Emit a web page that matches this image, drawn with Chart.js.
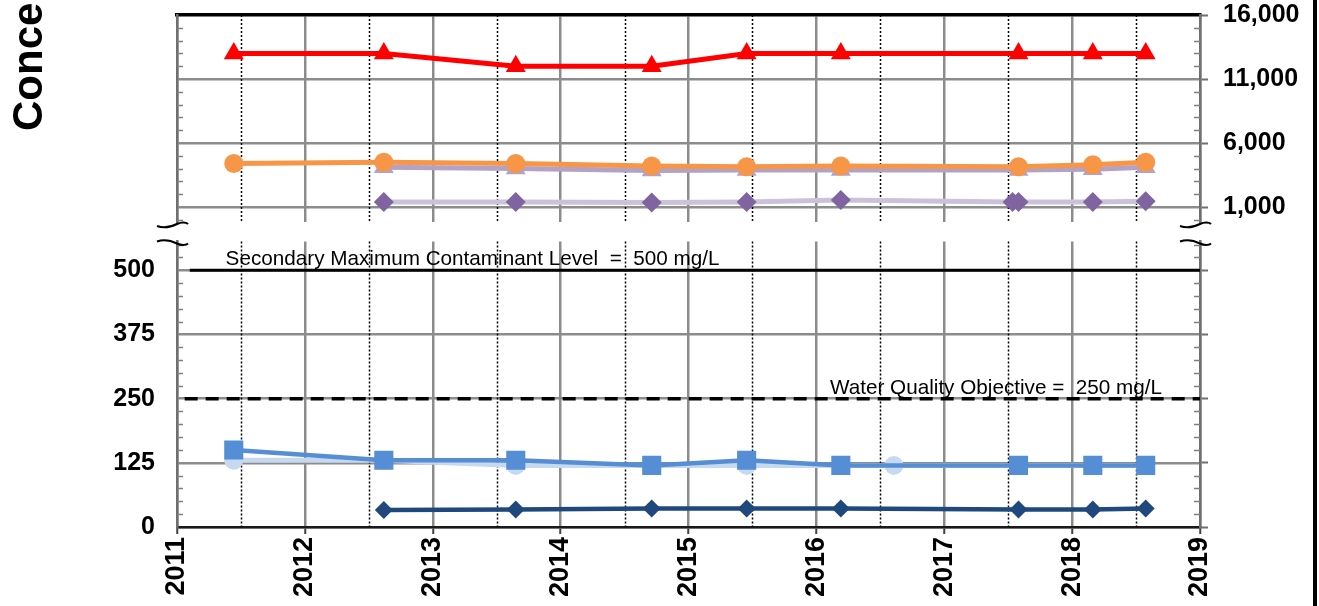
<!DOCTYPE html>
<html>
<head>
<meta charset="utf-8">
<script src="https://cdn.jsdelivr.net/npm/chart.js@4.4.1/dist/chart.umd.min.js"></script>
<style>
  html, body { margin: 0; padding: 0; background: #fff; overflow: hidden; }
  #wrap { position: relative; width: 1319px; height: 606px; }
  canvas { position: absolute; left: 0; }
  #upper { top: 0; }
  #lower { top: 228px; }
  #edge { position: absolute; left: 1313px; top: 0; width: 4px; height: 606px; background: #000; }
</style>
</head>
<body>
<div id="wrap">
  <canvas id="upper" width="1319" height="235"></canvas>
  <canvas id="lower" width="1319" height="378"></canvas>
  <div id="edge"></div>
</div>
<script>
Chart.defaults.font.family = "'Liberation Sans', Arial, sans-serif";
Chart.defaults.color = '#000';

// sampling dates
const sampleDates = ['2011-06-12', '2012-08-14', '2013-08-26', '2014-09-18', '2015-06-16', '2016-03-11', '2017-08-01', '2018-03-01', '2018-07-30'];
const laterDates = ['2012-08-14', '2013-08-26', '2014-09-18', '2015-06-16', '2016-03-11', '2017-08-01', '2018-03-01', '2018-07-30'];
const diamondDates = ['2012-08-14', '2013-08-26', '2014-09-18', '2015-06-16', '2016-03-11', '2017-07-15', '2017-08-01', '2018-03-01', '2018-07-30'];
const circleDates = ['2011-06-12', '2012-08-14', '2013-08-26', '2014-09-18', '2015-06-16', '2016-03-11', '2016-08-10', '2017-08-01', '2018-03-01', '2018-07-30'];

// upper panel values (mg/L)
const redValues = [13000, 13000, 12000, 12000, 13000, 13000, 13000, 13000, 13000];
const orangeValues = [4400, 4500, 4400, 4200, 4150, 4200, 4150, 4300, 4500];
const lavenderValues = [4100, 4000, 3850, 3900, 3900, 3900, 3950, 4100];
const purpleValues = [1400, 1400, 1350, 1400, 1550, 1400, 1400, 1400, 1450];

// lower panel values (mg/L)
const squareValues = [150, 130, 130, 120, 130, 120, 120, 120, 120];
const lightBlueValues = [130, 130, 120, 120, 120, 120, 120, 120, 120, 120];
const darkBlueValues = [33, 34, 36, 36, 36, 34, 34, 36];

const smclValue = 500;
const wqoValue = 250;

const yearTicks = [2011, 2012, 2013, 2014, 2015, 2016, 2017, 2018, 2019];
const seasonLines = [2011.5, 2012.5, 2013.5, 2014.5, 2015.5, 2016.5, 2017.5, 2018.5];
const upperTicks = [1000, 6000, 11000, 16000];
const lowerTicks = [0, 125, 250, 375, 500];

function toYear(s) {
  const d = new Date(s + 'T00:00:00Z');
  const y = d.getUTCFullYear();
  const start = Date.UTC(y, 0, 1);
  return y + (d - start) / (Date.UTC(y + 1, 0, 1) - start);
}

function series(label, dates, values, color, width, style, radius, markColor) {
  return {
    label,
    data: dates.map((d, i) => ({ x: toYear(d), y: values[i] })),
    borderColor: color,
    backgroundColor: markColor || color,
    borderWidth: width,
    pointStyle: style,
    pointRadius: radius,
    pointHoverRadius: radius,
    pointBorderWidth: 0,
    tension: 0,
  };
}

const useTicks = (list) => (s) => { s.ticks = list.map((v) => ({ value: v })); };
const fixSize = (size) => (s) => {
  if (s.isHorizontal()) s.height = size; else s.width = size;
  s.paddingTop = s.paddingBottom = s.paddingLeft = s.paddingRight = 0;
};

function squiggle(ctx, x, y, flip) {
  const d = flip ? -1 : 1;
  ctx.beginPath();
  ctx.moveTo(x - 20, y + d);
  ctx.bezierCurveTo(x - 12, y + 4 * d, x - 6, y + 2 * d, x, y - d);
  ctx.bezierCurveTo(x + 4, y - 3 * d, x + 9, y - 3 * d, x + 11, y - d);
  ctx.stroke();
}

const decor = {
  id: 'decor',
  beforeDatasetsDraw(chart, args, opts) {
    const { ctx, chartArea: a, scales } = chart;
    ctx.save();
    // dotted mid-year lines
    ctx.strokeStyle = '#000';
    ctx.lineWidth = 1.5;
    ctx.setLineDash([2, 2]);
    seasonLines.forEach((v) => {
      const x = Math.round(scales.x.getPixelForValue(v)) + 0.5;
      ctx.beginPath();
      ctx.moveTo(x, a.top);
      ctx.lineTo(x, a.bottom);
      ctx.stroke();
    });
    ctx.setLineDash([]);
    // minor ticks on both value axes
    ctx.strokeStyle = '#808080';
    const y = scales.y;
    for (let v = Math.ceil(y.min / opts.minorStep) * opts.minorStep; v <= y.max; v += opts.minorStep) {
      if (opts.majors.includes(v)) continue;
      const py = Math.round(y.getPixelForValue(v)) + 0.5;
      ctx.beginPath();
      ctx.moveTo(a.left, py);
      ctx.lineTo(a.left + 6, py);
      ctx.moveTo(a.right - 6, py);
      ctx.lineTo(a.right, py);
      ctx.stroke();
    }
    ctx.restore();
  },
  afterDraw(chart, args, opts) {
    const { ctx, chartArea: a, scales } = chart;
    ctx.save();
    // axis break marks
    ctx.strokeStyle = '#000';
    ctx.lineWidth = 2;
    const by = opts.breakAtBottom ? a.bottom + 3 : a.top + 1;
    squiggle(ctx, a.left, by, !opts.breakAtBottom);
    squiggle(ctx, a.right, by, !opts.breakAtBottom);

    ctx.fillStyle = '#000';
    ctx.font = "20.7px 'Liberation Sans', Arial, sans-serif";
    ctx.textAlign = 'left';
    ctx.textBaseline = 'alphabetic';
    (opts.notes || []).forEach((n) => {
      ctx.fillText(n.text, scales.x.getPixelForValue(n.x), scales.y.getPixelForValue(n.y) - 5);
    });

    if (opts.yTitle) {
      ctx.translate(42, 131);
      ctx.rotate(-Math.PI / 2);
      ctx.font = "bold 42px 'Liberation Sans', Arial, sans-serif";
      ctx.fillText(opts.yTitle, 0, 0);
    }
    ctx.restore();
  },
};

const gridGray = '#8c8c8c';
const axisGray = '#6f6f6f';
const tickFont = { size: 25, weight: 'bold' };

new Chart(document.getElementById('upper'), {
  type: 'line',
  data: {
    datasets: [
      series('Red', sampleDates, redValues, '#ff0000', 5, 'triangle', 11.5),
      series('Orange', sampleDates, orangeValues, '#f79646', 5, 'circle', 9.5),
      series('Lavender', laterDates, lavenderValues, '#b3a2c7', 5, 'triangle', 11.5),
      series('Purple', diamondDates, purpleValues, '#ccc1da', 5, 'rectRot', 10, '#8064a2'),
    ],
  },
  options: {
    responsive: false,
    devicePixelRatio: 1,
    animation: false,
    events: [],
    layout: { padding: { top: 15, bottom: 13, left: 0, right: 0 } },
    plugins: {
      legend: { display: false },
      tooltip: { enabled: false },
      decor: { minorStep: 1000, majors: upperTicks, breakAtBottom: true, yTitle: 'Concentration (mg/L)' },
    },
    scales: {
      x: {
        type: 'linear', position: 'top', min: 2011, max: 2019,
        afterBuildTicks: useTicks(yearTicks),
        ticks: { display: false },
        grid: { color: gridGray, lineWidth: 2.5, drawTicks: false },
        border: { color: '#000', width: 3.5 },
        afterFit: fixSize(0),
      },
      y: {
        position: 'left', min: -170, max: 16000,
        afterBuildTicks: useTicks(upperTicks),
        ticks: { display: false },
        grid: { color: (c) => (c.tick && c.tick.value === 16000 ? 'rgba(0,0,0,0)' : gridGray), lineWidth: 2.5, drawTicks: false },
        border: { color: axisGray, width: 2.5 },
        afterFit: fixSize(177),
      },
      yR: {
        position: 'right', min: -170, max: 16000,
        afterBuildTicks: useTicks(upperTicks),
        ticks: { font: tickFont, padding: 15, color: '#000' },
        grid: { drawOnChartArea: false, tickLength: 8, tickColor: axisGray, tickWidth: 2 },
        border: { color: axisGray, width: 2.5 },
        afterFit: fixSize(119),
      },
    },
  },
  plugins: [decor],
});

new Chart(document.getElementById('lower'), {
  type: 'line',
  data: {
    datasets: [
      series('Blue squares', sampleDates, squareValues, '#558ed5', 4.5, 'rect', 13.5),
      series('Light blue', circleDates, lightBlueValues, '#c6d9f0', 5, 'circle', 9.5),
      series('Dark blue', laterDates, darkBlueValues, '#1f497d', 4.5, 'rectRot', 9),
      { label: 'SMCL', data: [{ x: 2011.1, y: smclValue }, { x: 2019, y: smclValue }], borderColor: '#000', borderWidth: 3, pointRadius: 0 },
      { label: 'WQO', data: [{ x: 2011.06, y: wqoValue }, { x: 2019, y: wqoValue }], borderColor: '#000', borderWidth: 3.5, borderDash: [13, 8], pointRadius: 0 },
    ],
  },
  options: {
    responsive: false,
    devicePixelRatio: 1,
    animation: false,
    events: [],
    layout: { padding: { top: 0, bottom: 0, left: 0, right: 0 } },
    plugins: {
      legend: { display: false },
      tooltip: { enabled: false },
      decor: {
        minorStep: 25, majors: lowerTicks, breakAtBottom: false,
        notes: [
          { text: 'Secondary Maximum Contaminant Level  =  500 mg/L', x: 2011.38, y: smclValue },
          { text: 'Water Quality Objective =  250 mg/L', x: 2016.106, y: wqoValue },
        ],
      },
    },
    scales: {
      x: {
        type: 'linear', position: 'bottom', min: 2011, max: 2019,
        afterBuildTicks: useTicks(yearTicks),
        ticks: { minRotation: 90, maxRotation: 90, autoSkip: false, padding: 3, font: { size: 27, weight: 'bold' }, color: '#000', callback: (v) => String(v) },
        grid: { color: gridGray, lineWidth: 2.5, tickLength: 7, tickColor: '#404040', tickWidth: 2 },
        border: { color: '#1a1a1a', width: 2.5 },
        afterFit: fixSize(79),
      },
      y: {
        position: 'left', min: 0, max: 556,
        afterBuildTicks: useTicks(lowerTicks),
        ticks: { font: tickFont, padding: 22, color: '#000' },
        grid: { color: gridGray, lineWidth: 2.5, drawTicks: false },
        border: { color: axisGray, width: 2.5 },
        afterFit: fixSize(177),
      },
      yR: {
        position: 'right', min: 0, max: 556,
        afterBuildTicks: useTicks(lowerTicks),
        ticks: { display: false },
        grid: { drawOnChartArea: false, tickLength: 8, tickColor: axisGray, tickWidth: 2 },
        border: { color: axisGray, width: 2.5 },
        afterFit: fixSize(119),
      },
    },
  },
  plugins: [decor],
});
</script>
</body>
</html>
